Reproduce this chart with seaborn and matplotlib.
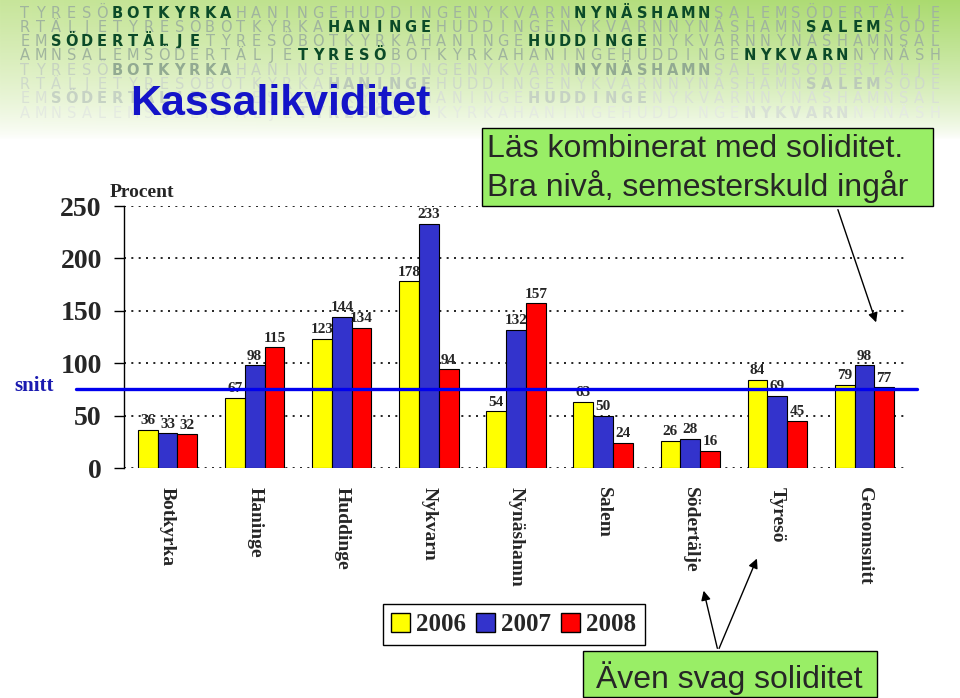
import numpy as np
import pandas as pd
import matplotlib
matplotlib.use("Agg")
import matplotlib.pyplot as plt
import seaborn as sns
from matplotlib.patches import Rectangle, Patch, FancyArrowPatch
from matplotlib.transforms import blended_transform_factory

# data
kommuner = ["Botkyrka", "Haninge", "Huddinge", "Nykvarn", "Nynäshamn",
            "Salem", "Södertälje", "Tyresö", "Genomsnitt"]
ar = ["2006", "2007", "2008"]
v2006 = [36, 67, 123, 178, 54, 63, 26, 84, 79]
v2007 = [33, 98, 144, 233, 132, 50, 28, 69, 98]
v2008 = [32, 115, 134, 94, 157, 24, 16, 45, 77]
snitt = 75
yticks = [0, 50, 100, 150, 200, 250]
farger = ["#FFFF00", "#3333CC", "#FF0000"]

# decorative banner rows (text, highlighted names)
banner_rader = [
    ("TYRESÖBOTKYRKAHANINGEHUDDINGENYKVARNNYNÄSHAMNSALEMSÖDERTÄLJE", ["BOTKYRKA", "NYNÄSHAMN"]),
    ("RTÄLJETYRESÖBOTKYRKAHANINGEHUDDINGENYKVARNNYNÄSHAMNSALEMSÖDE", ["HANINGE", "SALEM"]),
    ("EMSÖDERTÄLJETYRESÖBOTKYRKAHANINGEHUDDINGENYKVARNNYNÄSHAMNSAL", ["SÖDERTÄLJE", "HUDDINGE"]),
    ("AMNSALEMSÖDERTÄLJETYRESÖBOTKYRKAHANINGEHUDDINGENYKVARNNYNÄSH", ["TYRESÖ", "NYKVARN"]),
]

df = pd.DataFrame({
    "Kommun": kommuner * 3,
    "År": np.repeat(ar, len(kommuner)),
    "Procent": v2006 + v2007 + v2008,
})

sns.set_theme(style="white")
plt.rcParams["font.family"] = ["Liberation Serif", "DejaVu Serif"]
serif = ["Liberation Serif", "DejaVu Serif"]
sans = ["Liberation Sans", "DejaVu Sans"]

W, H = 960, 698
fig = plt.figure(figsize=(9.6, 6.98), dpi=100, facecolor="white")


def fx(px):
    return px / W


def fy(py):
    return 1 - py / H


# green banner gradient
bg = fig.add_axes([0, 0, 1, 1], zorder=-10)
bg.axis("off")
bh = 140
yy = np.linspace(0, 1, bh)[:, None]
xx = np.linspace(0, 1, W)[None, :]
img = np.zeros((bh, W, 4))
img[..., 0] = (200 - 30 * xx) / 255
img[..., 1] = (230 - 12 * xx) / 255
img[..., 2] = (155 - 45 * xx) / 255
img[..., 3] = np.clip(1 - yy, 0, 1) ** 0.75 + 0 * xx
bg.imshow(img, extent=(0, W, H - bh, H), aspect="auto", origin="upper")
bg.set_xlim(0, W)
bg.set_ylim(0, H)

vanlig = ["#A0B49E", "#A0B49E", "#A0B49E", "#A0B49E",
          "#C6D2C1", "#CED9CA", "#D9E1D5", "#E4EAE1"]
markerad = ["#0B4A28", "#0B4A28", "#0B4A28", "#0B4A28",
            "#92AA92", "#BCCABA", "#C6D2C4", "#D8E0D6"]
for r in range(8):
    text, namn = banner_rader[r % 4]
    hl = np.zeros(len(text), dtype=bool)
    for n in namn:
        i0 = text.find(n)
        hl[i0:i0 + len(n)] = True
    y = 13 + r * 14.3
    for i, ch in enumerate(text):
        fig.text(fx(25 + i * 15.42), fy(y), ch, ha="center", va="center",
                 fontsize=10.5, family="DejaVu Sans",
                 fontweight="bold" if hl[i] else "normal",
                 color=markerad[r] if hl[i] else vanlig[r], zorder=1)

fig.text(fx(130), fy(115), "Kassalikviditet", fontsize=31, fontweight="bold",
         family=sans, color="#1414C8", va="baseline", ha="left", zorder=3)

# main chart
ax = fig.add_axes([fx(124), fy(468), 784 / W, 262 / H])
ax.set_facecolor("none")
sns.barplot(data=df, x="Kommun", y="Procent", hue="År", order=kommuner,
            hue_order=ar, palette=farger, saturation=1, width=0.68,
            edgecolor="black", linewidth=0.8, errorbar=None, legend=False, ax=ax)

ax.set_ylim(0, 250)
ax.set_xlim(-0.5, 8.5)
ax.set_axisbelow(True)
ax.yaxis.grid(True, linestyle=(0, (1.2, 3.2)), color="black", lw=1.2)
ax.xaxis.grid(False)
for s in ["top", "right", "bottom"]:
    ax.spines[s].set_visible(False)
ax.spines["left"].set_color("black")
ax.spines["left"].set_linewidth(1)

ax.set_yticks(yticks)
ax.set_yticklabels([str(t) for t in yticks], fontsize=20, fontweight="bold", family=serif)
ax.tick_params(axis="y", left=True, length=7, width=1, color="black", pad=9)
ax.set_xticks(range(len(kommuner)))
ax.set_xticklabels(kommuner, rotation=-90, fontsize=14, fontweight="bold",
                   family=serif, va="top", ha="center")
ax.tick_params(axis="x", length=0, pad=14)
ax.set_xlabel("")
ax.set_ylabel("")

for c in ax.containers:
    ax.bar_label(c, fmt="{:.0f}", padding=2, fontsize=11, fontweight="bold", family=serif)

ax.axhline(snitt, xmin=(76 - 124) / 784, xmax=(917 - 124) / 784, color="#0000EE",
           lw=2.4, clip_on=False, zorder=5)
trans = blended_transform_factory(fig.transFigure, ax.transData)
ax.text(fx(14), snitt + 3, "snitt", transform=trans, ha="left", va="center",
        fontsize=15, fontweight="bold", family=serif, color="#1A1AB0")
ax.text(-0.018, 1.053, "Procent", transform=ax.transAxes, ha="left", va="center",
        fontsize=14, fontweight="bold", family=serif)

# legend
handles = [Patch(facecolor=c, edgecolor="black", lw=1) for c in farger]
leg = fig.legend(handles, ar, loc="center", bbox_to_anchor=(fx(514), fy(624.5)),
                 ncol=3, frameon=True, fancybox=False, edgecolor="black", framealpha=1,
                 prop=dict(family=serif, weight="bold", size=18),
                 handlelength=0.75, handleheight=0.8, handletextpad=0.25,
                 columnspacing=0.4, borderpad=0.35, borderaxespad=0)

# comment boxes
fig.add_artist(Rectangle((fx(482), fy(206)), (933 - 482) / W, (206 - 128) / H,
                         transform=fig.transFigure, fc="#99EE66", ec="black", lw=1, zorder=4))
fig.text(fx(487), fy(157), "Läs kombinerat med soliditet.", fontsize=23, family=sans,
         va="baseline", zorder=5)
fig.text(fx(487), fy(196), "Bra nivå, semesterskuld ingår", fontsize=23, family=sans,
         va="baseline", zorder=5)

fig.add_artist(Rectangle((fx(583), fy(697)), (877 - 583) / W, (697 - 651) / H,
                         transform=fig.transFigure, fc="#99EE66", ec="black", lw=1, zorder=4))
fig.text(fx(596), fy(688), "Även svag soliditet", fontsize=23, family=sans,
         va="baseline", zorder=5)

for a, b in [((837, 207), (877, 325)), ((718, 651), (703, 588)), ((718, 651), (758, 556))]:
    fig.add_artist(FancyArrowPatch((fx(a[0]), fy(a[1])), (fx(b[0]), fy(b[1])),
                                   transform=fig.transFigure, arrowstyle="-|>",
                                   mutation_scale=14, lw=1, color="black", zorder=6))

fig.savefig("out.png", dpi=100)
